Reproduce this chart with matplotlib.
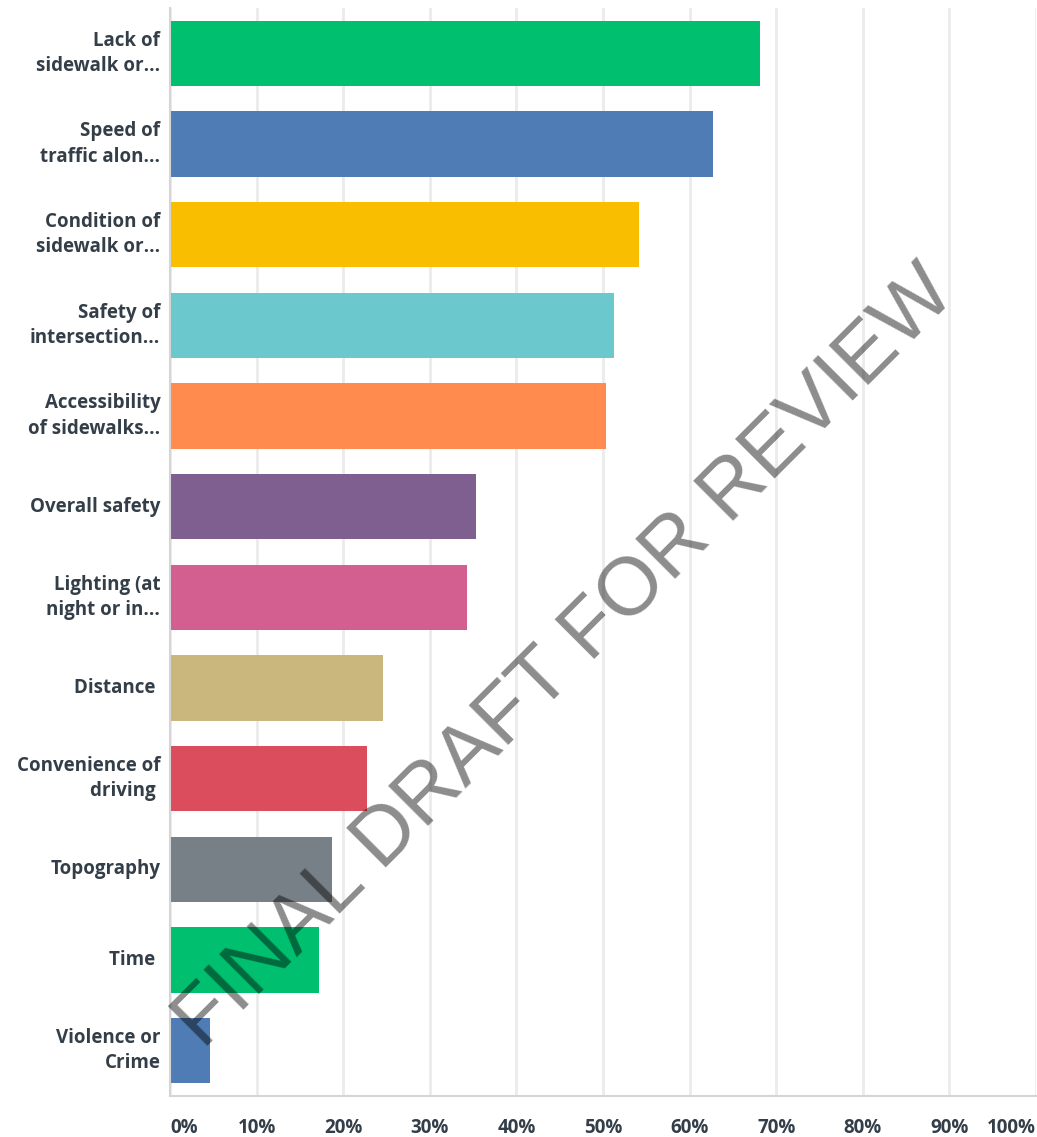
import matplotlib.pyplot as plt
import numpy as np

# survey answers, top to bottom
labels = [
    "Lack of\nsidewalk or...",
    "Speed of\ntraffic alon...",
    "Condition of\nsidewalk or...",
    "Safety of\nintersection...",
    "Accessibility\nof sidewalks...",
    "Overall safety",
    "Lighting (at\nnight or in...",
    "Distance ",
    "Convenience of\ndriving ",
    "Topography",
    "Time ",
    "Violence or\nCrime",
]
values = [68.1, 62.7, 54.2, 51.3, 50.3, 35.3, 34.3, 24.6, 22.8, 18.7, 17.2, 4.6]
colors = ["#00BF6F", "#507CB6", "#F9BE00", "#6BC8CD", "#FF8B4F", "#7F5F90",
          "#D25F90", "#C9B77D", "#DB4D5C", "#768086", "#00BF6F", "#507CB6"]
xticks = list(range(0, 101, 10))
xticklabels = [f"{t}%" for t in xticks]

text_color = "#333E48"
plt.rcParams['font.family'] = ['Open Sans', 'DejaVu Sans']

fig = plt.figure(figsize=(10.37, 11.37), dpi=100)
ax = fig.add_axes([170 / 1037, 1 - 1096 / 1137, 866 / 1037, 1088 / 1137])

y = np.arange(len(labels))
ax.barh(y, values, height=0.72, color=colors, zorder=2)

ax.set_xlim(0, 100)
ax.set_ylim(len(labels) - 0.5, -0.5)

ax.set_xticks(xticks)
ax.set_xticklabels(xticklabels, fontsize=13.5, fontweight='bold', color=text_color)
tl = ax.get_xticklabels()
tl[0].set_ha('left')
tl[-1].set_ha('right')
ax.tick_params(axis='x', length=0, pad=16)

ax.set_yticks(y)
ax.set_yticklabels(labels, fontsize=13.5, fontweight='bold', color=text_color,
                   linespacing=1.35, va='center')
ax.tick_params(axis='y', length=0, pad=7)

ax.grid(axis='x', color='#EBEBEB', linewidth=2, zorder=0)
for s in ['top', 'right']:
    ax.spines[s].set_visible(False)
ax.spines['left'].set_color('#D5D5D5')
ax.spines['left'].set_linewidth(1.5)
ax.spines['bottom'].set_color('#D5D5D5')
ax.spines['bottom'].set_linewidth(1.5)

# watermark
fig.text(566 / 1037, 1 - 658 / 1137, "FINAL DRAFT FOR REVIEW", fontsize=59,
         family='Liberation Sans', color='black', alpha=0.45, rotation=45,
         rotation_mode='anchor', ha='center', va='center', zorder=10)

fig.savefig("out.png", dpi=100)
